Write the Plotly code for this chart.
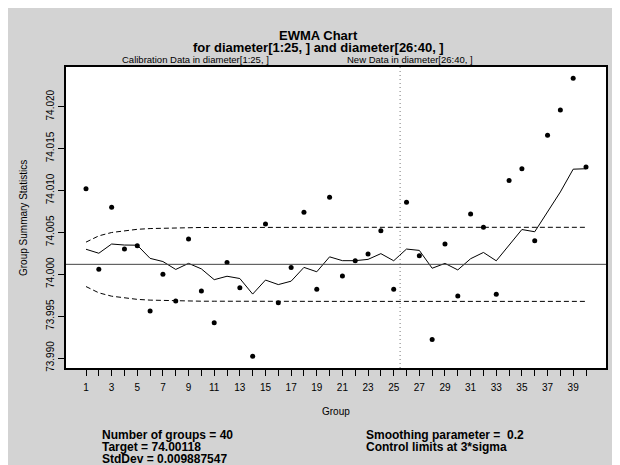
import plotly.graph_objects as go

# ---- data ----
groups = list(range(1, 41))
group_means = [74.0102, 74.0006, 74.0080, 74.0030, 74.0034, 73.9956, 74.0000, 73.9968,
               74.0042, 73.9980, 73.9942, 74.0014, 73.9984, 73.9902, 74.0060, 73.9966,
               74.0008, 74.0074, 73.9982, 74.0092, 73.9998, 74.0016, 74.0024, 74.0052,
               73.9982, 74.0086, 74.0022, 73.9922, 74.0036, 73.9974, 74.0072, 74.0056,
               73.9976, 74.0112, 74.0126, 74.0040, 74.0166, 74.0196, 74.0234, 74.0128]
ewma_stat = [74.002981, 74.002505, 74.003604, 74.003483, 74.003466, 74.001893, 74.001515,
             74.000572, 74.001297, 74.000638, 73.999350, 73.999760, 73.999488, 73.997630,
             73.999304, 73.998764, 73.999171, 74.000817, 74.000293, 74.002075, 74.001620,
             74.001616, 74.001773, 74.002458, 74.001607, 74.003005, 74.002844, 74.000715,
             74.001292, 74.000514, 74.001851, 74.002601, 74.001601, 74.003521, 74.005336,
             74.005069, 74.007375, 74.009820, 74.012536, 74.012589]
ucl = [74.00383, 74.00458, 74.00498, 74.00521, 74.00536, 74.00545, 74.00550, 74.00554,
       74.00556, 74.00558, 74.00558, 74.00559] + [74.00560] * 28
lcl = [73.99853, 73.99778, 73.99738, 73.99715, 73.99700, 73.99691, 73.99686, 73.99682,
       73.99680, 73.99678, 73.99678, 73.99677] + [73.99676] * 28
center = 74.00118
split_at = 25.5
y_ticks = [73.990, 73.995, 74.000, 74.005, 74.010, 74.015, 74.020]
y_tick_labels = ["73.990", "73.995", "74.000", "74.005", "74.010", "74.015", "74.020"]
x_tick_labels = [str(g) if g % 2 == 1 else "" for g in groups]

FONT = "Liberation Sans, Arial, Helvetica, sans-serif"

fig = go.Figure()
fig.add_trace(go.Scatter(x=groups, y=ucl, mode="lines",
                         line=dict(color="black", width=1, dash="5px,3px"), hoverinfo="skip"))
fig.add_trace(go.Scatter(x=groups, y=lcl, mode="lines",
                         line=dict(color="black", width=1, dash="5px,3px"), hoverinfo="skip"))
fig.add_trace(go.Scatter(x=groups, y=ewma_stat, mode="lines",
                         line=dict(color="black", width=1)))
fig.add_trace(go.Scatter(x=groups, y=group_means, mode="markers",
                         marker=dict(color="black", size=5)))

fig.add_hline(y=center, line=dict(color="#444444", width=1))
fig.add_vline(x=split_at, line=dict(color="#777777", width=1, dash="1px,3px"))

L, R, T, B = 58, 598, 59, 360
W, H = 620, 465


def px(x):
    return (x - L) / (R - L)


def py(y):
    return (B - y) / (B - T)


ann = [
    dict(text="<b>EWMA Chart</b>", x=px(310), y=py(27.5), font=dict(size=13)),
    dict(text="<b>for diameter[1:25, ] and diameter[26:40, ]</b>", x=px(310), y=py(39.5), font=dict(size=13)),
    dict(text="Calibration Data in diameter[1:25, ]", x=px(187), y=py(51), font=dict(size=9.5)),
    dict(text="New Data in diameter[26:40, ]", x=px(402), y=py(51), font=dict(size=9.5)),
    dict(text="Group", x=px(328), y=py(403), font=dict(size=10)),
    dict(text="Group Summary Statistics", x=px(15), y=py(210), font=dict(size=10), textangle=-90),
]
for a in ann:
    a.update(xref="paper", yref="paper", showarrow=False, xanchor="center", yanchor="middle")

left_lines = ["Number of groups = 40", "Target = 74.00118", "StdDev = 0.009887547"]
right_lines = ["Smoothing parameter =  0.2", "Control limits at 3*sigma"]
for i, t in enumerate(left_lines):
    ann.append(dict(text="<b>" + t + "</b>", x=px(92), y=py(427 + 12 * i), xref="paper", yref="paper",
                    showarrow=False, xanchor="left", yanchor="middle", font=dict(size=12)))
for i, t in enumerate(right_lines):
    ann.append(dict(text="<b>" + t + "</b>", x=px(356), y=py(427 + 12 * i), xref="paper", yref="paper",
                    showarrow=False, xanchor="left", yanchor="middle", font=dict(size=12)))

fig.update_layout(
    width=W, height=H,
    margin=dict(l=L, r=W - R, t=T, b=H - B, pad=0),
    paper_bgcolor="#D3D3D3", plot_bgcolor="white",
    showlegend=False,
    font=dict(family=FONT, color="black", size=10),
    annotations=ann,
    xaxis=dict(range=[-0.56, 41.56], tickmode="array", tickvals=groups, ticktext=x_tick_labels,
               ticks="outside", ticklen=6, tickwidth=1, tickcolor="black", ticklabelstandoff=3,
               showgrid=False, zeroline=False, showline=True, linecolor="black", linewidth=1.5,
               mirror=True, tickfont=dict(size=10)),
    yaxis=dict(range=[73.98881, 74.02473], tickmode="array", tickvals=y_ticks, ticktext=y_tick_labels,
               ticks="outside", ticklen=6, tickwidth=1, tickcolor="black", tickangle=-90,
               showgrid=False, zeroline=False, showline=True, linecolor="black", linewidth=1.5,
               mirror=True, tickfont=dict(size=10)),
)

fig.write_html("out.html")
